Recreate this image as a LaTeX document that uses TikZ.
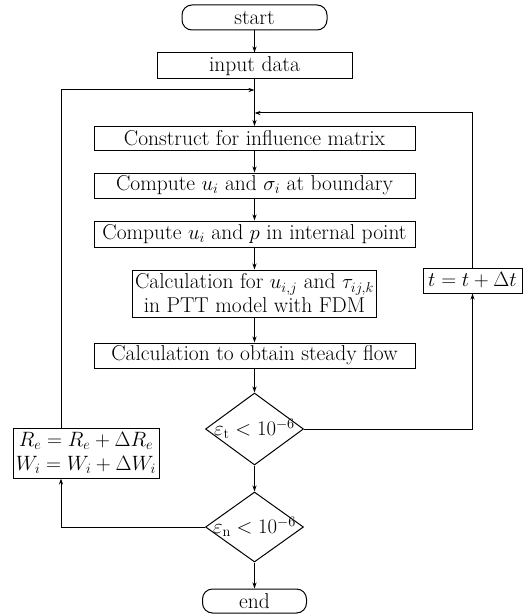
\documentclass[tikz,border=0pt]{standalone}
\usetikzlibrary{shapes.geometric,arrows.meta}
\begin{document}
\begin{tikzpicture}[x=1pt,y=-1pt,
  every node/.style={font=\fontsize{21.5}{24}\selectfont},
  box/.style={draw,line width=1pt,rectangle,inner sep=0pt,minimum height=25pt,align=center},
  term/.style={draw,line width=1pt,rectangle,rounded corners=10pt,inner sep=0pt,minimum height=25pt},
  dia/.style={draw,line width=1pt,diamond,inner sep=0pt,minimum width=98pt,minimum height=72pt},
  flow/.style={line width=1pt,-{Stealth[length=6pt,width=4pt]}},
  plain/.style={line width=1pt}]
\useasboundingbox (0,0) rectangle (530,615);
\node[term,minimum width=145pt] (start) at (254.5,17.5) {start};
\node[box,minimum width=195pt,minimum height=26pt] (input) at (254.5,66) {input data};
\node[box,minimum width=321pt,minimum height=24pt] (cons) at (254.5,138.5) {Construct for influence matrix};
\node[box,minimum width=321pt] (comp1) at (254.5,185.5) {Compute $u_i$ and $\sigma_i$ at boundary};
\node[box,minimum width=321pt,minimum height=26pt] (comp2) at (254.5,234) {Compute $u_i$ and $p$ in internal point};
\node[box,minimum width=244pt,minimum height=47pt] (calc) at (254.5,293.5) {Calculation for $u_{i,j}$ and $\tau_{ij,k}$\\in PTT model with FDM};
\node[box,minimum width=321pt] (steady) at (254.5,355.5) {Calculation to obtain steady flow};
\node[dia] (d1) at (254.5,429) {};
\node (d1t) at (d1) {$\varepsilon_{\mathrm{t}} < 10^{-6}$};
\node[dia,minimum height=70pt] (d2) at (254.5,527) {};
\node (d2t) at (d2) {$\varepsilon_{\mathrm{n}} < 10^{-6}$};
\node[term,minimum width=104pt,minimum height=24pt] (end) at (254.5,601) {end};
\node[box,minimum width=146pt,minimum height=50pt] (R) at (86,453) {$R_e = R_e + \Delta R_e$\\$W_i = W_i + \Delta W_i$};
\node[box,minimum width=99pt] (tb) at (472.5,280.5) {$t = t + \Delta t$};
\coordinate (jL) at (254.5,90);
\coordinate (jR) at (254.5,113);
\coordinate (cL) at (61,90);
\draw[flow] (start) -- (input);
\draw[flow] (input) -- (cons);
\draw[flow] (cons) -- (comp1);
\draw[flow] (comp1) -- (comp2);
\draw[flow] (comp2) -- (calc);
\draw[flow] (calc) -- (steady);
\draw[flow] (steady) -- (d1);
\draw[flow] (d1) -- (d2);
\draw[flow] (d2) -- (end);
\draw[flow] (d1.east) -| (tb.south);
\draw[flow] (tb.north) |- (jR);
\draw[flow] (d2.west) -| (R.south -| cL);
\draw[flow] (R.north -| cL) |- (jL);
\end{tikzpicture}
\end{document}
